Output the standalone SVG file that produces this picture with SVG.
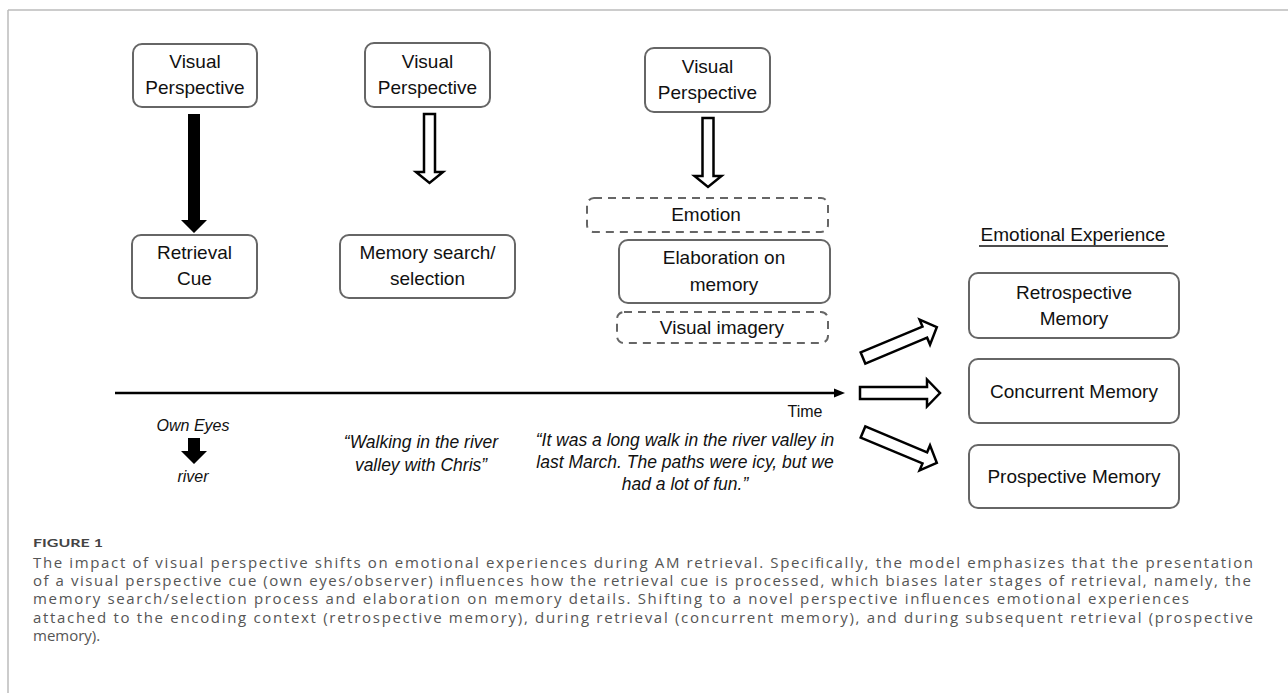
<svg xmlns="http://www.w3.org/2000/svg" width="1288" height="693" viewBox="0 0 1288 693">
<defs>
<style>
.box{fill:#fff;stroke:#666;stroke-width:2}
.dash{fill:#fff;stroke:#666;stroke-width:2;stroke-dasharray:8 6}
.t{font-family:"Liberation Sans",Arial,sans-serif;font-size:19px;fill:#111;text-anchor:middle}
.it{font-family:"Liberation Sans",Arial,sans-serif;font-size:16px;font-style:italic;fill:#111;text-anchor:middle}
.q{font-size:17.5px}
.cap{font-family:"Open Sans","Liberation Sans",sans-serif;font-size:15px;fill:#555}
.hollow{fill:#fff;stroke:#000;stroke-width:2.5;stroke-linejoin:miter}
</style>
<polygon id="harrow" points="0,-6 67,-6 67,-13.5 80,0 67,13.5 67,6 0,6"/>
<polygon id="varrow" points="-5.5,0 5.5,0 5.5,58 13.5,58 0,69 -13.5,58 -5.5,58"/>
</defs>
<rect width="1288" height="693" fill="#fff"/>
<g id="frame" stroke="#bbb" stroke-width="1.5" fill="none">
<line x1="8" y1="10" x2="1288" y2="10"/>
<line x1="8" y1="10" x2="8" y2="693"/>
</g>

<g id="vp1"><rect class="box" x="133" y="44" width="124" height="63" rx="9"/>
<text class="t" x="195" y="68">Visual</text><text class="t" x="195" y="94">Perspective</text></g>
<g id="cue"><rect class="box" x="132" y="235" width="125" height="63" rx="9"/>
<text class="t" x="194.5" y="259">Retrieval</text><text class="t" x="194.5" y="285">Cue</text></g>

<g id="vp2"><rect class="box" x="365" y="43" width="125" height="64" rx="9"/>
<text class="t" x="427.5" y="68">Visual</text><text class="t" x="427.5" y="94">Perspective</text></g>
<g id="search"><rect class="box" x="340" y="235" width="175" height="63" rx="9"/>
<text class="t" x="427.5" y="259">Memory search/</text><text class="t" x="427.5" y="285">selection</text></g>

<g id="vp3"><rect class="box" x="645" y="48" width="125" height="64" rx="9"/>
<text class="t" x="707.5" y="73">Visual</text><text class="t" x="707.5" y="99">Perspective</text></g>
<g id="emotion"><rect class="dash" x="587" y="198" width="241" height="34" rx="7"/>
<text class="t" x="706" y="221">Emotion</text></g>
<g id="elab"><rect class="box" x="619" y="240" width="211" height="63" rx="9"/>
<text class="t" x="724" y="264">Elaboration on</text><text class="t" x="724" y="291">memory</text></g>
<g id="imagery"><rect class="dash" x="617" y="312" width="211" height="31" rx="7"/>
<text class="t" x="722" y="334">Visual imagery</text></g>

<g id="header"><text class="t" x="1073" y="241">Emotional Experience</text>
<line x1="979" y1="246" x2="1168" y2="246" stroke="#111" stroke-width="1.5"/></g>
<g id="retro"><rect class="box" x="969" y="273" width="210" height="65" rx="9"/>
<text class="t" x="1074" y="299">Retrospective</text><text class="t" x="1074" y="325">Memory</text></g>
<g id="concurrent"><rect class="box" x="969" y="359" width="210" height="64" rx="9"/>
<text class="t" x="1074" y="398">Concurrent Memory</text></g>
<g id="prospective"><rect class="box" x="969" y="445" width="210" height="63" rx="9"/>
<text class="t" x="1074" y="483">Prospective Memory</text></g>

<g id="connectors">
<polygon fill="#000" points="188,114 200,114 200,220 207,220 194,233 181,220 188,220"/>
<use href="#varrow" class="hollow" transform="translate(429.5,114)"/>
<use href="#varrow" class="hollow" transform="translate(708,118)"/>
<use href="#harrow" class="hollow" transform="translate(863,358) rotate(-22.7)"/>
<use href="#harrow" class="hollow" transform="translate(860,393)"/>
<use href="#harrow" class="hollow" transform="translate(863,432) rotate(22.7)"/>
<line x1="115" y1="393" x2="836" y2="393" stroke="#000" stroke-width="2.5"/>
<polygon fill="#000" points="834,388.5 845,393 834,397.5"/>
<polygon fill="#000" points="188,438 200,438 200,451 207,451 194,464 181,451 188,451"/>
</g>

<g id="labels">
<text x="805" y="417" font-family="Liberation Sans,Arial,sans-serif" font-size="16" fill="#111" text-anchor="middle">Time</text>
<text class="it" x="193" y="431">Own Eyes</text>
<text class="it" x="193" y="482">river</text>
<text class="it q" x="421" y="448">“Walking in the river</text>
<text class="it q" x="421" y="471">valley with Chris”</text>
<text class="it q" x="685" y="446">“It was a long walk in the river valley in</text>
<text class="it q" x="685" y="468">last March. The paths were icy, but we</text>
<text class="it q" x="685" y="490">had a lot of fun.”</text>
</g>

<g id="caption">
<text x="33" y="547" font-family="Lato,'Liberation Sans',sans-serif" font-size="12" font-weight="bold" fill="#444" textLength="70" lengthAdjust="spacingAndGlyphs">FIGURE 1</text>
<text class="cap" x="33" y="568" textLength="1220" lengthAdjust="spacing">The impact of visual perspective shifts on emotional experiences during AM retrieval. Specifically, the model emphasizes that the presentation</text>
<text class="cap" x="33" y="586" textLength="1218" lengthAdjust="spacing">of a visual perspective cue (own eyes/observer) influences how the retrieval cue is processed, which biases later stages of retrieval, namely, the</text>
<text class="cap" x="33" y="604" textLength="1156" lengthAdjust="spacing">memory search/selection process and elaboration on memory details. Shifting to a novel perspective influences emotional experiences</text>
<text class="cap" x="33" y="623" textLength="1220" lengthAdjust="spacing">attached to the encoding context (retrospective memory), during retrieval (concurrent memory), and during subsequent retrieval (prospective</text>
<text class="cap" x="33" y="641">memory).</text>
</g>
</svg>
